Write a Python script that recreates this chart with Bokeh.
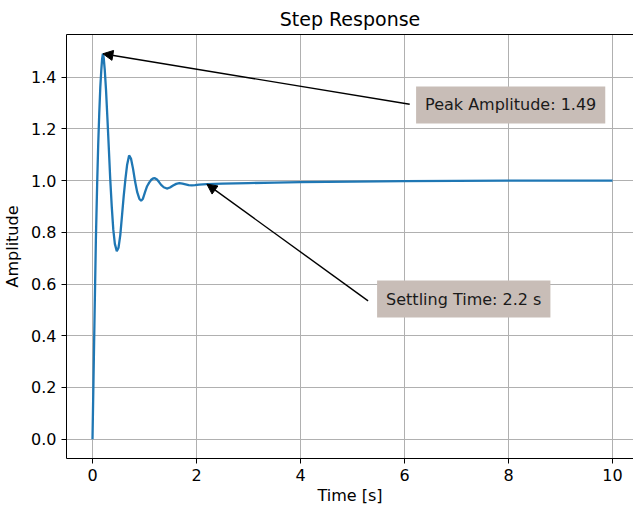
from bokeh.plotting import figure
from bokeh.models import Range1d, FixedTicker, LinearAxis, Arrow, NormalHead, Label, PrintfTickFormatter
from bokeh.embed import file_html
from bokeh.resources import INLINE

# Step response
time_s = [0, 0.02, 0.04, 0.065, 0.09, 0.11, 0.13, 0.15, 0.17, 0.185, 0.2, 0.215, 0.235, 0.26,
          0.287, 0.315, 0.34, 0.37, 0.4, 0.43, 0.467, 0.5, 0.535, 0.57, 0.6, 0.633, 0.665,
          0.704, 0.74, 0.78, 0.82, 0.86, 0.9, 0.935, 0.97, 1.01, 1.05, 1.09, 1.13, 1.165,
          1.2, 1.24, 1.28, 1.32, 1.37, 1.43, 1.49, 1.55, 1.61, 1.67, 1.73, 1.79, 1.85, 1.91,
          1.97, 2.05, 2.2, 2.5, 3.0, 3.5, 4.0, 4.5, 5.0, 5.5, 6.0, 7.0, 8.0, 9.0, 10.0]
amplitude = [0.0, 0.24, 0.48, 0.77, 0.99, 1.14, 1.26, 1.36, 1.43, 1.47, 1.49, 1.475, 1.43, 1.35,
             1.24, 1.12, 1.01, 0.90, 0.81, 0.755, 0.727, 0.74, 0.79, 0.87, 0.94, 1.005, 1.06,
             1.097, 1.085, 1.045, 0.995, 0.955, 0.93, 0.922, 0.93, 0.955, 0.978, 0.992, 1.003, 1.008,
             1.009, 1.004, 0.994, 0.983, 0.974, 0.969, 0.973, 0.981, 0.987, 0.990, 0.988, 0.985, 0.982, 0.981,
             0.982, 0.984, 0.986, 0.988, 0.990, 0.992, 0.994, 0.995, 0.996, 0.997, 0.998, 0.999, 1.0, 1.0, 1.0]

x_ticks = [0, 2, 4, 6, 8, 10]
y_ticks = [0.0, 0.2, 0.4, 0.6, 0.8, 1.0, 1.2, 1.4]

peak_time, peak_value = 0.2, 1.49
settle_time, settle_value = 2.2, 0.986
peak_text = "Peak Amplitude: 1.49"
settle_text = "Settling Time: 2.2 s"
peak_text_pos = (6.223, 1.292)
settle_text_pos = (5.473, 0.542)
peak_tail = (6.1, 1.295)
settle_tail = (5.3, 0.535)

FONT = "DejaVu Sans"

p = figure(width=633, height=510, output_backend="svg", toolbar_location=None,
           x_range=Range1d(-0.5, 10.404), y_range=Range1d(-0.0745, 1.5645),
           min_border_left=66, min_border_right=0, min_border_top=32, min_border_bottom=52,
           title="Step Response")
p.background_fill_color = "white"
p.border_fill_color = "white"
p.outline_line_color = None

p.title.align = "center"
p.title.text_font = FONT
p.title.text_font_size = "19px"
p.title.text_font_style = "normal"
p.title.text_color = "black"

p.line(time_s, amplitude, line_color="#1f77b4", line_width=2.3)

for ax in (p.xaxis[0], p.yaxis[0]):
    ax.axis_line_color = "black"
    ax.axis_line_width = 1
    ax.major_tick_line_color = "black"
    ax.major_tick_out = 5
    ax.major_tick_in = 0
    ax.minor_tick_line_color = None
    ax.major_label_text_font = FONT
    ax.major_label_text_font_size = "16px"
    ax.major_label_text_color = "black"
    ax.axis_label_text_font = FONT
    ax.axis_label_text_font_size = "16px"
    ax.axis_label_text_font_style = "normal"
    ax.axis_label_text_color = "black"

p.xaxis.ticker = FixedTicker(ticks=x_ticks)
p.yaxis.ticker = FixedTicker(ticks=y_ticks)
p.yaxis.formatter = PrintfTickFormatter(format="%.1f")
p.xaxis.axis_label = "Time [s]"
p.yaxis.axis_label = "Amplitude"
p.xaxis.axis_label_standoff = 2
p.yaxis.axis_label_standoff = 6

top = LinearAxis(ticker=FixedTicker(ticks=[]), axis_line_color="black",
                 major_tick_line_color=None, minor_tick_line_color=None,
                 major_label_text_color=None)
p.add_layout(top, "above")

p.xgrid.ticker = FixedTicker(ticks=x_ticks)
p.ygrid.ticker = FixedTicker(ticks=y_ticks)
p.grid.grid_line_color = "#b0b0b0"
p.grid.grid_line_width = 1

p.add_layout(Arrow(end=NormalHead(size=10, fill_color="black", line_color="black"),
                   x_start=peak_tail[0], y_start=peak_tail[1], x_end=peak_time, y_end=peak_value,
                   line_color="black", line_width=1.4))
p.add_layout(Arrow(end=NormalHead(size=10, fill_color="black", line_color="black"),
                   x_start=settle_tail[0], y_start=settle_tail[1], x_end=settle_time, y_end=settle_value,
                   line_color="black", line_width=1.4))

for (tx, ty), txt in ((peak_text_pos, peak_text), (settle_text_pos, settle_text)):
    p.add_layout(Label(x=tx, y=ty, text=txt, text_font=FONT, text_font_size="16px",
                       text_color="#1a1a1a", text_align="left", text_baseline="middle",
                       background_fill_color="#c8bdb7", padding=9))

open("out.html", "w").write(file_html(p, INLINE))
